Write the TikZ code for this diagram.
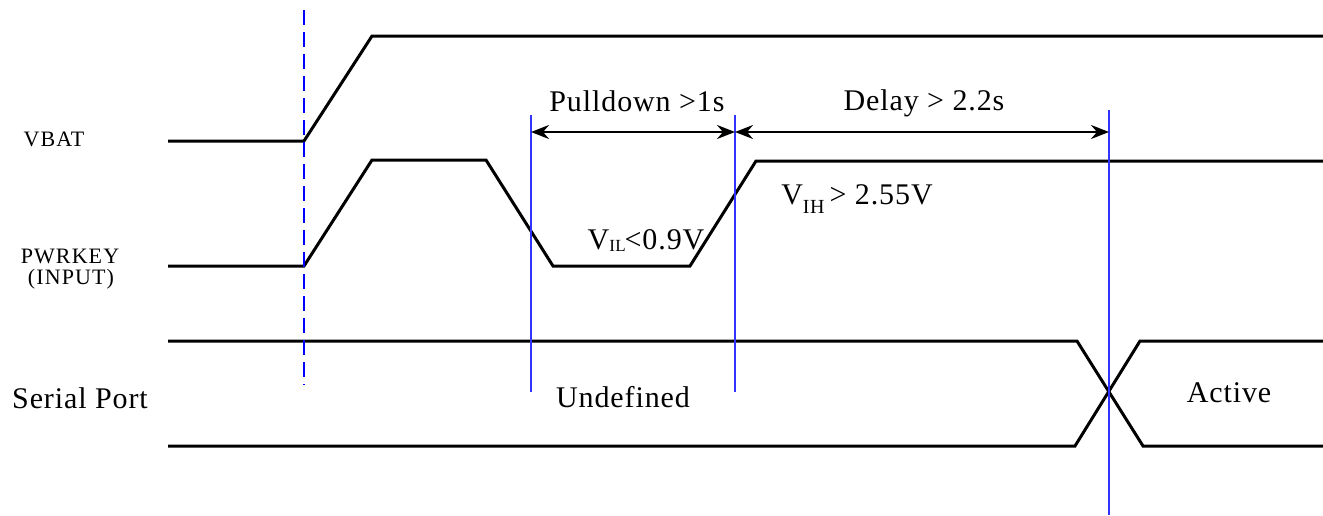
\documentclass[tikz,border=0pt]{standalone}
\usepackage{fontspec}
\setmainfont{Liberation Serif}
\usetikzlibrary{arrows.meta}
\begin{document}
\begin{tikzpicture}[x=0.5pt,y=-0.5pt,
  wave/.style={line width=1.5pt,line join=miter,black},
  marker/.style={blue!80!white,line width=0.6pt},
  startline/.style={blue,line width=1.2pt,dash pattern=on 7.5pt off 3.5pt},
  dim/.style={line width=1.3pt,{Stealth[length=9pt,width=7pt,inset=3pt]}-{Stealth[length=9pt,width=7pt,inset=3pt]}},
  big/.style={font=\fontsize{15}{17}\selectfont\addfontfeature{LetterSpace=3},inner sep=0pt,anchor=base},
  small/.style={font=\fontsize{11}{12}\selectfont\addfontfeature{LetterSpace=5},inner sep=0pt,anchor=base,align=center}]
\useasboundingbox (0,0) rectangle (1323,515);
% labels
\node[small] (vbat) at (54,146) {VBAT};
\node[small] (pwr) at (70,263) {PWRKEY};
\node[small] (inp) at (71,284) {(INPUT)};
\node[big] (sp) at (80,408) {Serial Port};
\node[big] (undef) at (623,407) {Undefined};
\node[big] (act) at (1229,402) {Active};
\node[big] (pd) at (637,111) {Pulldown >1s};
\node[big] (dl) at (924,110) {Delay > 2.2s};
\node[big] (vil) at (646,249) {V\raisebox{-1pt}{\fontsize{8.5}{9}\selectfont IL}\kern-0.6pt<0.9V};
\node[big] (vih) at (857,204) {V\raisebox{-4.5pt}{\fontsize{10}{10}\selectfont IH}\,> 2.55V};
% waveforms
\draw[wave] (168,141) -- (304,141) -- (372,36) -- (1323,36);
\draw[wave] (168,266) -- (304,266) -- (372,160) -- (486,160) -- (553,266) -- (690,266) -- (756,161) -- (1323,161);
\draw[wave] (168,341) -- (1077,341) -- (1143,446) -- (1323,446);
\draw[wave] (168,446) -- (1075,446) -- (1140,341) -- (1323,341);
% markers
\coordinate (d0) at (304,10); \coordinate (d1) at (304,385);
\draw[startline] (d0) -- (d1);
\coordinate (m1t) at (531,115); \coordinate (m1b) at (531,392);
\coordinate (m2t) at (735,115); \coordinate (m2b) at (735,392);
\coordinate (m3t) at (1109,110); \coordinate (m3b) at (1109,515);
\draw[marker] (m1t) -- (m1b);
\draw[marker] (m2t) -- (m2b);
\draw[marker] (m3t) -- (m3b);
\coordinate (a1) at (531,132); \coordinate (a2) at (735,132); \coordinate (a3) at (1109,132);
\draw[dim] (a1) -- (a2);
\draw[dim] (a2) -- (a3);
\end{tikzpicture}
\end{document}
